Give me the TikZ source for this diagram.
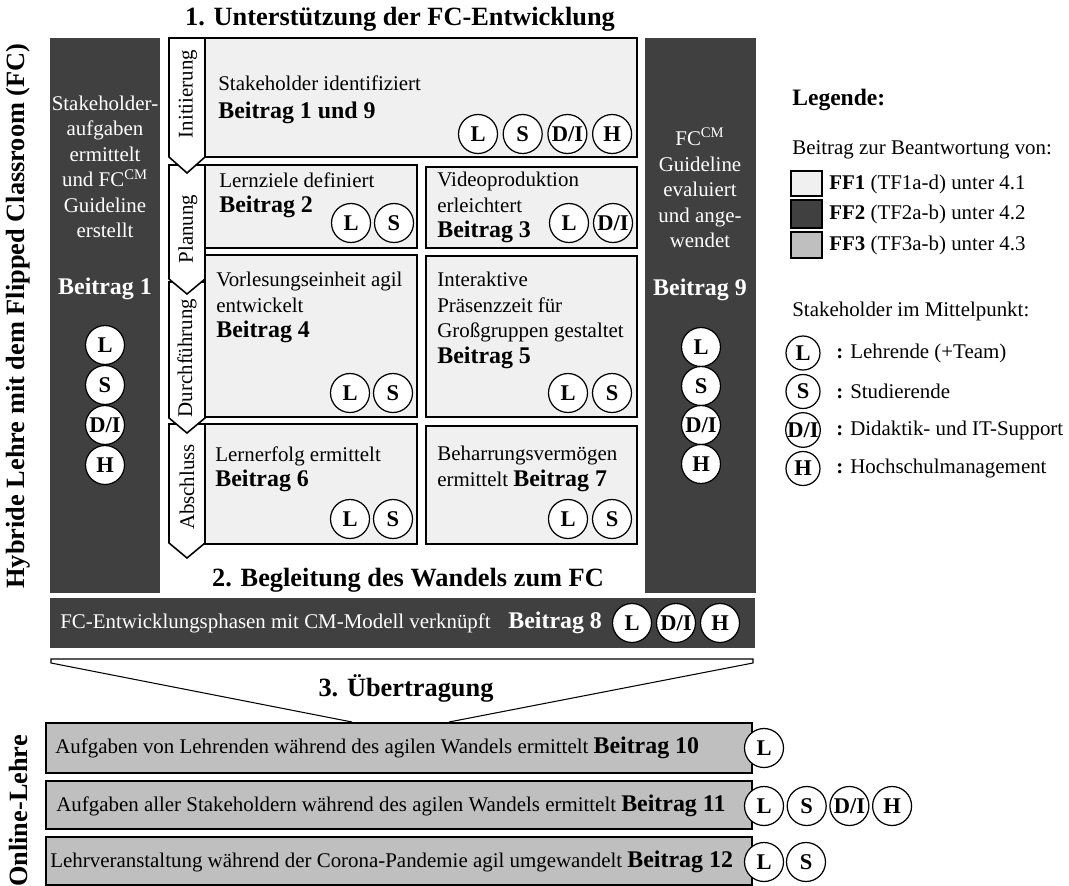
\documentclass[tikz,border=0pt]{standalone}
\usepackage{fontspec}
\setmainfont{Liberation Serif}
\usetikzlibrary{positioning}

\definecolor{ffone}{HTML}{F0F0F0}
\definecolor{fftwo}{HTML}{404040}
\definecolor{ffthree}{HTML}{BFBFBF}

\newcommand{\headfont}{\fontsize{15}{18}\selectfont\bfseries}
\newcommand{\btfont}{\fontsize{13.6}{14.5}\selectfont\bfseries}
\newcommand{\bt}[1]{{\btfont #1}}

\tikzset{
  holder/.style={circle, draw, fill=white, line width=0.7pt, minimum size=0.78cm, inner sep=0pt, font=\fontsize{12.8}{14}\selectfont\bfseries},
  smallholder/.style={holder, minimum size=0.68cm},
  taskbox/.style={draw, fill=ffone, line width=0.9pt},
  phase/.style={draw, fill=white, line width=0.9pt},
  tasktext/.style={anchor=north west, align=left, inner sep=0pt},
  coltext/.style={text=white, align=center, inner sep=0pt},
  transfer/.style={draw, fill=ffthree, line width=0.9pt},
}

\begin{document}
\begin{tikzpicture}[x=0.02cm, y=-0.02cm, execute at begin picture={\fontsize{11.9}{14.5}\selectfont}]
    \useasboundingbox (0,0) rectangle (1069,886);

    % side labels
    \node[rotate=90, font=\headfont] (hybrid) at (18,316) {Hybride Lehre mit dem Flipped Classroom (FC)};
    \node[rotate=90, font=\headfont] (online) at (18,811) {Online-Lehre};

    % dark columns
    \fill [fftwo] (50,38) rectangle (160,593);
    \fill [fftwo] (645,38) rectangle (756,593);
    \node[coltext] (lefttext) at (105,167) {Stakeholder-\\aufgaben\\ermittelt\\und FC\textsuperscript{CM}\\Guideline\\erstellt};
    \node[coltext, font=\btfont] (leftbeitrag) at (105,289) {Beitrag 1};
    \node[coltext] (righttext) at (700,188) {FC\textsuperscript{CM}\\Guideline\\evaluiert\\und ange-\\wendet};
    \node[coltext, font=\btfont] (rightbeitrag) at (700,290) {Beitrag 9};
    \foreach \s [count=\i] in {L,S,{D/I},H} {
      \node[holder] (lc-\i) at (105,{345+40*(\i-1)}) {\s};
      \node[holder] (rc-\i) at (701,{347+39*(\i-1)}) {\s};
    }

    % 1. support of FC development
    \node[font=\headfont] (title1) at (400,19) {1. Unterstützung der FC-Entwicklung};
    \draw [taskbox] (205,38) rectangle (637,157);
    \draw [taskbox] (205,165) rectangle (417,248);
    \draw [taskbox] (426,167) rectangle (637,248);
    \draw [taskbox] (205,255) rectangle (417,417);
    \draw [taskbox] (426,256) rectangle (637,417);
    \draw [taskbox] (205,424) rectangle (417,544);
    \draw [taskbox] (426,426) rectangle (637,544);

    % phases (drawn from the last one up)
    \draw [phase] (169,424) -- (205,424) -- (205,543) -- (187,558) -- (169,543) -- cycle;
    \draw [phase] (169,282) -- (205,282) -- (205,418) -- (187,433) -- (169,418) -- cycle;
    \draw [phase] (169,165) -- (205,165) -- (205,279) -- (187,294) -- (169,279) -- cycle;
    \draw [phase] (169,38) -- (205,38) -- (205,157) -- (187,173) -- (169,157) -- cycle;
    \node[rotate=90] (ini) at (188,94) {Initiierung};
    \node[rotate=90] (plan) at (188,229) {Planung};
    \node[rotate=90] (durch) at (187,358) {Durchführung};
    \node[rotate=90] (absch) at (187,487) {Abschluss};

    \node[tasktext] (t1) at (218,75) {Stakeholder identifiziert\\[1.5pt]\bt{Beitrag 1 und 9}};
    \node[tasktext] (t2) at (219,172) {Lernziele definiert\\\bt{Beitrag 2}};
    \node[tasktext] (t3) at (437,172) {Videoproduktion\\erleichtert\\\bt{Beitrag 3}};
    \node[tasktext] (t4) at (216,272) {Vorlesungseinheit agil\\entwickelt\\\bt{Beitrag 4}};
    \node[tasktext] (t5) at (437,272) {Interaktive\\Präsenzzeit für\\Großgruppen gestaltet\\\bt{Beitrag 5}};
    \node[tasktext] (t6) at (215,446) {Lernerfolg ermittelt\\\bt{Beitrag 6}};
    \node[tasktext] (t7) at (437,446) {Beharrungsvermögen\\ermittelt \bt{Beitrag 7}};

    \foreach \s [count=\i] in {L,S,{D/I},H}
      \node[holder] (h1-\i) at ({478+44.7*(\i-1)},134) {\s};
    \node[holder] (h2-1) at (351,223) {L};
    \node[holder] (h2-2) at (394,223) {S};
    \node[holder] (h3-1) at (569,223) {L};
    \node[holder] (h3-2) at (613,223) {D/I};
    \node[holder] (h4-1) at (350,393) {L};
    \node[holder] (h4-2) at (393,393) {S};
    \node[holder] (h5-1) at (568,393) {L};
    \node[holder] (h5-2) at (612,393) {S};
    \node[holder] (h6-1) at (350,519) {L};
    \node[holder] (h6-2) at (393,519) {S};
    \node[holder] (h7-1) at (568,519) {L};
    \node[holder] (h7-2) at (612,519) {S};

    % 2. change management
    \node[font=\headfont] (title2) at (408,580) {2. Begleitung des Wandels zum FC};
    \fill [fftwo] (50,598) rectangle (755,648);
    \node[text=white, anchor=west, inner sep=0pt] (band) at (60,623) {FC-Entwicklungsphasen mit CM-Modell verknüpft};
    \node[text=white, anchor=west, inner sep=0pt, font=\btfont, right=0.34cm of band] (b8) {Beitrag 8};
    \node[holder] (h8-1) at (632,623) {L};
    \node[holder] (h8-2) at (676,623) {D/I};
    \node[holder] (h8-3) at (720,623) {H};

    % 3. transfer
    \draw [line width=0.6pt] (352,722) -- (51,663) -- (51,659) -- (753,659) -- (753,663) -- (449,722);
    \node[font=\headfont] (title3) at (406,688) {3. Übertragung};
    \draw [transfer] (46,723) rectangle (752,773);
    \draw [transfer] (46,781) rectangle (752,829);
    \draw [transfer] (46,837) rectangle (752,885);
    \node[anchor=west, inner sep=0pt] (t10) at (55,748) {Aufgaben von Lehrenden während des agilen Wandels ermittelt \bt{Beitrag 10}};
    \node[anchor=west, inner sep=0pt] (t11) at (56,806) {Aufgaben aller Stakeholdern während des agilen Wandels ermittelt \bt{Beitrag 11}};
    \node[anchor=west, inner sep=0pt] (t12) at (50,862) {Lehrveranstaltung während der Corona-Pandemie agil umgewandelt \bt{Beitrag 12}};
    \node[holder] (h10-1) at (764,748) {L};
    \foreach \s [count=\i] in {L,S,{D/I},H}
      \node[holder] (h11-\i) at ({764+42.7*(\i-1)},806) {\s};
    \node[holder] (h12-1) at (764,862) {L};
    \node[holder] (h12-2) at (806,862) {S};

    % legend
    \node[anchor=west, inner sep=0pt, font=\fontsize{13.4}{16}\selectfont\bfseries] (leg) at (792,100) {Legende:};
    \node[anchor=west, inner sep=0pt] (legff) at (792,150) {Beitrag zur Beantwortung von:};
    \draw [line width=0.9pt, fill=ffone] (791,171) rectangle (822,196);
    \draw [line width=0.9pt, fill=fftwo] (791,200) rectangle (822,228);
    \draw [line width=0.9pt, fill=ffthree] (791,232) rectangle (822,258);
    \node[anchor=west, inner sep=0pt] (ff1) at (829,184) {\textbf{FF1} (TF1a-d) unter 4.1};
    \node[anchor=west, inner sep=0pt] (ff2) at (829,214) {\textbf{FF2} (TF2a-b) unter 4.2};
    \node[anchor=west, inner sep=0pt] (ff3) at (829,245) {\textbf{FF3} (TF3a-b) unter 4.3};
    \node[anchor=west, inner sep=0pt] (legsh) at (792,311) {Stakeholder im Mittelpunkt:};
    \foreach \s/\t [count=\i] in {L/Lehrende (+Team), S/Studierende, {D/I}/Didaktik- und IT-Support, H/Hochschulmanagement} {
      \node[smallholder] (lh-\i) at (803,{353+38.5*(\i-1)}) {\s};
      \node[anchor=west, inner sep=0pt] (lt-\i) at (836,{353+38.5*(\i-1)}) {\textbf{:} \t};
    }
\end{tikzpicture}
\end{document}
